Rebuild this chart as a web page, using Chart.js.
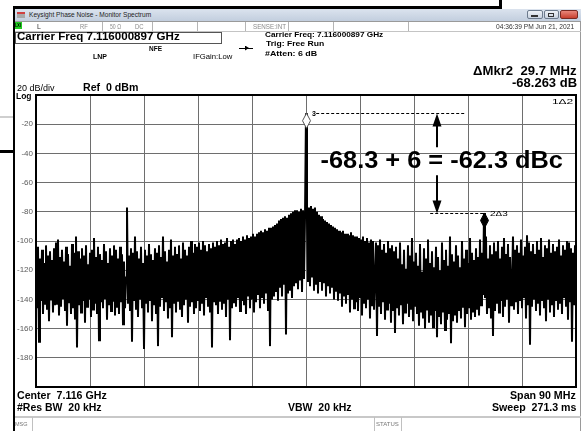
<!DOCTYPE html>
<html><head><meta charset="utf-8">
<script src="https://cdn.jsdelivr.net/npm/chart.js@4.4.0/dist/chart.umd.min.js"></script>
<style>
html,body{margin:0;padding:0;background:#fff;}
body{width:582px;height:431px;position:relative;overflow:hidden;font-family:"Liberation Sans",Arial,sans-serif;}
.a{position:absolute;white-space:pre;line-height:1;}
.r{position:absolute;}
#cv{position:absolute;left:0;top:0;}
</style></head><body>
<canvas id="cv" width="582" height="431"></canvas>
<script>
// ---------------- DATA ----------------
const sweepStartMHz = -45;   // Center 7.116 GHz - Span/2
const sweepStopMHz = 45;     // Center 7.116 GHz + Span/2
const yTicksDb = [-20, -40, -60, -80, -100, -120, -140, -160, -180];
// trace amplitude (dBm) for each sweep point (left to right)
const traceDb = [
-108,-146,-104,-169,-112,-141,-106,-150,-115,-143,-103,-147,-110,-155,-107,-140,-113,-149,-105,-144,
-101,-143,-99,-151,-111,-145,-106,-139,-114,-148,-104,-158,-109,-142,-117,-150,-102,-146,-108,-153,
-97,-173,-107,-144,-112,-149,-105,-141,-110,-156,-103,-145,-116,-140,-108,-152,-106,-147,-98,-143,
-111,-150,-104,-168,-109,-142,-113,-146,-102,-139,-107,-154,-115,-144,-105,-148,-110,-141,-103,-151,
-106,-145,-112,-150,-104,-142,-109,-157,-114,-146,-125,-77,-143,-110,-148,-105,-169,-108,-141,-97,
-147,-107,-152,-112,-140,-104,-146,-115,-174,-106,-143,-110,-149,-102,-141,-109,-155,-113,-144,-105,
-150,-108,-172,-103,-145,-111,-139,-97,-148,-107,-142,-114,-153,-106,-146,-99,-166,-110,-143,-104,
-149,-109,-141,-103,-147,-112,-152,-101,-144,-106,-140,-110,-156,-104,-145,-100,-142,-108,-150,-102,
-146,-104,-141,-101,-148,-106,-143,-100,-151,-103,-139,-107,-145,-102,-149,-105,-173,-101,-142,-104,
-144,-100,-150,-103,-141,-99,-147,-102,-143,-101,-152,-98,-140,-104,-168,-100,-146,-99,-142,-102,
-145,-99,-139,-98,-148,-100,-141,-97,-144,-99,-150,-96,-138,-98,-146,-97,-140,-95,-149,-97,
-142,-95,-137,-94,-146,-93,-139,-94,-143,-92,-136,-93,-148,-91,-172,-91,-140,-90,-138,-89,
-135,-88,-141,-86,-132,-85,-138,-84,-130,-83,-164,-84,-136,-82,-134,-81,-139,-80,-131,-79,
-129,-79,-133,-80,-127,-78,-135,-79,-126,-84,-12.5,-86,-128,-77,-131,-76,-125,-78,-134,-77,
-130,-80,-136,-82,-128,-83,-134,-85,-129,-86,-138,-87,-131,-88,-136,-89,-132,-90,-140,-91,
-134,-92,-141,-93,-136,-94,-145,-93,-138,-95,-143,-95,-137,-96,-149,-94,-140,-96,-146,-97,
-142,-97,-148,-98,-139,-99,-151,-97,-143,-100,-146,-98,-140,-101,-153,-99,-144,-100,-147,-125,
-101,-165,-103,-145,-99,-150,-106,-142,-102,-154,-108,-147,-100,-143,-105,-156,-103,-148,-107,-163,
-104,-146,-112,-151,-101,-144,-116,-157,-106,-149,-119,-143,-103,-152,-110,-147,-98,-155,-114,-145,
-108,-150,-117,-158,-102,-149,-121,-153,-105,-160,-112,-147,-99,-156,-115,-151,-107,-159,-118,-148,
-104,-166,-111,-152,-120,-157,-101,-149,-113,-161,-106,-154,-117,-150,-97,-170,-109,-155,-114,-151,
-103,-156,-110,-148,-118,-153,-100,-145,-112,-159,-106,-150,-115,-146,-98,-154,-108,-149,-113,-152,
-105,-147,-111,-151,-99,-144,-108,-137,-80.8,-139,-97,-150,-112,-146,-103,-153,-109,-165,-101,-148,
-107,-143,-100,-149,-112,-141,-104,-152,-98,-145,-109,-140,-102,-156,-111,-144,-128,-97,-147,-106,
-142,-103,-150,-108,-141,-99,-146,-110,-139,-104,-153,-96,-144,-101,-171,-107,-145,-102,-140,-109,
-148,-100,-143,-106,-151,-98,-141,-111,-146,-103,-155,-105,-140,-99,-149,-108,-144,-102,-152,-107,
-141,-104,-147,-99,-143,-110,-150,-103,-139,-106,-145,-100,-154,-101,-142,-105,-169,-108,-144,-103,
-146
];
// markers: 3 = carrier (reference), 2 = spur (delta marker)
const markerNames = ['3', '2\u03943'];
const markerFreqMHz = [0, 29.7];
const markerLevelDb = [-12.5, -80.8];
const deltaLabel = '-68.3 + 6 = -62.3 dBc';

// ---------------- helpers ----------------
function box(x, y, w, h, css) {
  const d = document.createElement('div');
  d.className = 'r';
  d.style.cssText = `left:${x}px;top:${y}px;width:${w}px;height:${h}px;` + (css || '');
  document.body.appendChild(d);
  return d;
}
function put(t, x, base, size, bold, align, color, w) {
  const s = document.createElement('div');
  s.className = 'a';
  s.textContent = t;
  s.style.fontSize = size + 'px';
  s.style.fontWeight = bold ? 'bold' : 'normal';
  s.style.color = color || '#000';
  s.style.top = (base - 0.8465 * size) + 'px';
  document.body.appendChild(s);
  const mw = s.offsetWidth;
  const k = w ? w / mw : 1;
  if (align === 'r') { s.style.right = (582 - x) + 'px'; s.style.transformOrigin = 'right center'; }
  else if (align === 'c') { s.style.left = (x - mw / 2) + 'px'; s.style.transformOrigin = 'center center'; }
  else { s.style.left = x + 'px'; s.style.transformOrigin = 'left center'; }
  s.style.transform = `scaleX(${k})`;
  return s;
}

// ---------------- chart ----------------
const tracePoints = traceDb.map((v, i) => ({
  x: sweepStartMHz + (sweepStopMHz - sweepStartMHz) * i / (traceDb.length - 1),
  y: v
}));

const annot = {
  upperDash: [1.7, 26.5],
  lowerDash: [20.7, 29.7],
  arrowX: 21.8,
  upperArrowEnd: -35.8,
  lowerArrowStart: -54.9,
  textX: 22.6,
  textBaseline: -50.3
};

const framePlugin = {
  id: 'frame',
  afterDraw(c) {
    const a = c.chartArea, ctx = c.ctx;
    ctx.save();
    ctx.strokeStyle = '#000';
    ctx.lineWidth = 2;
    ctx.strokeRect(a.left, a.top, a.right - a.left, a.bottom - a.top);
    ctx.restore();
  }
};

const markerPlugin = {
  id: 'markers',
  afterDatasetsDraw(c) {
    const ctx = c.ctx, xs = c.scales.x, ys = c.scales.y;
    ctx.save();
    ctx.strokeStyle = '#000';
    ctx.lineWidth = 1;
    ctx.setLineDash([3, 2]);
    const y3 = Math.round(ys.getPixelForValue(markerLevelDb[0])) + 0.5;
    const y2 = Math.round(ys.getPixelForValue(markerLevelDb[1])) + 0.5;
    ctx.beginPath();
    ctx.moveTo(xs.getPixelForValue(annot.upperDash[0]), y3);
    ctx.lineTo(xs.getPixelForValue(annot.upperDash[1]), y3);
    ctx.moveTo(xs.getPixelForValue(annot.lowerDash[0]), y2);
    ctx.lineTo(xs.getPixelForValue(annot.lowerDash[1]), y2);
    ctx.stroke();
    ctx.setLineDash([]);
    const ax = Math.round(xs.getPixelForValue(annot.arrowX));
    ctx.lineWidth = 2;
    ctx.beginPath();
    ctx.moveTo(ax, y3 + 10);
    ctx.lineTo(ax, ys.getPixelForValue(annot.upperArrowEnd));
    ctx.moveTo(ax, ys.getPixelForValue(annot.lowerArrowStart));
    ctx.lineTo(ax, y2 - 10);
    ctx.stroke();
    ctx.fillStyle = '#000';
    ctx.beginPath();
    ctx.moveTo(ax, y3); ctx.lineTo(ax + 4.5, y3 + 13); ctx.lineTo(ax - 4.5, y3 + 13); ctx.closePath();
    ctx.moveTo(ax, y2); ctx.lineTo(ax + 4.5, y2 - 13); ctx.lineTo(ax - 4.5, y2 - 13); ctx.closePath();
    ctx.fill();
    markerFreqMHz.forEach((f, i) => {
      const x = Math.round(xs.getPixelForValue(f)) + 0.5;
      const y = ys.getPixelForValue(markerLevelDb[i]);
      ctx.beginPath();
      ctx.moveTo(x, y); ctx.lineTo(x + 4, y + 7.5); ctx.lineTo(x, y + 15); ctx.lineTo(x - 4, y + 7.5); ctx.closePath();
      ctx.lineWidth = 1;
      ctx.fillStyle = i === 0 ? '#fff' : '#000';
      ctx.fill();
      ctx.strokeStyle = i === 0 ? '#555' : '#000';
      ctx.stroke();
    });
    ctx.restore();
  }
};

const chart = new Chart(document.getElementById('cv'), {
  type: 'line',
  data: {
    datasets: [{
      data: tracePoints,
      borderColor: '#000',
      borderWidth: 2,
      pointRadius: 0,
      tension: 0,
      fill: false
    }]
  },
  options: {
    responsive: false,
    animation: false,
    events: [],
    layout: { padding: { left: 0, top: 95, right: 6, bottom: 44 } },
    plugins: { legend: { display: false }, tooltip: { enabled: false } },
    scales: {
      x: {
        type: 'linear', min: sweepStartMHz, max: sweepStopMHz,
        ticks: { display: false, stepSize: 9 },
        grid: { color: '#6e6e6e', drawTicks: false, lineWidth: 1 },
        border: { display: false },
        afterFit(s) { s.height = 0; }
      },
      y: {
        min: -200, max: 0,
        afterBuildTicks(s) { s.ticks = [0, ...yTicksDb, -200].map(v => ({ value: v })); },
        ticks: {
          callback: v => (yTicksDb.includes(v) ? String(v) : ''),
          font: { size: 8, family: '"Liberation Sans", Arial, sans-serif' },
          color: '#5a5a5a', padding: 3
        },
        grid: { color: '#6e6e6e', drawTicks: false, lineWidth: 1 },
        border: { display: false },
        afterFit(s) { s.width = 36; }
      }
    }
  },
  plugins: [framePlugin, markerPlugin]
});

// ---------------- window chrome ----------------
box(0, 116, 13, 2, 'background:#cfcfcf');
box(0, 149.5, 13, 3, 'background:#000');
box(13, 6, 487, 2.5, 'background:#000');
box(499, 0, 3, 8.5, 'background:#000');
box(13, 6, 2, 425, 'background:#000');
box(580, 20, 1, 411, 'background:#9a9a9a');
box(15, 8.5, 566, 12, 'background:linear-gradient(#dbe3ee,#c2cede);');
box(17, 12, 8, 6, 'background:#a8a8a8;border-top:2px solid #d04040;box-sizing:border-box');
box(527, 10, 16, 9, 'background:linear-gradient(#eef2f7,#c9d3e0);border:1px solid #6d7b8d;box-sizing:border-box;border-radius:2px');
box(544, 10, 15, 9, 'background:linear-gradient(#eef2f7,#c9d3e0);border:1px solid #6d7b8d;box-sizing:border-box;border-radius:2px');
box(560, 10, 18, 9, 'background:linear-gradient(#e8877b,#c8402f);border:1px solid #7a2a22;box-sizing:border-box;border-radius:2px');
box(531, 15, 7, 1.5, 'background:#333');
box(548, 12.5, 6, 4, 'border:1px solid #333;box-sizing:border-box');
box(15, 20.5, 566, 1, 'background:#9a9a9a');
box(15, 31, 566, 1, 'background:#c4c4c4');
box(15, 22, 6.5, 7, 'background:#22cc22');
[102, 152, 197, 245, 288, 333, 408].forEach(x => box(x, 21.5, 1, 9.5, 'background:#b5b5b5'));
box(15, 31.5, 207, 12, 'border:1px solid #555;box-sizing:border-box');
box(239, 47.5, 14, 1, 'background:#000');
box(245, 45.5, 4, 5, 'background:#000;clip-path:polygon(0 0,100% 50%,0 100%)');
box(15, 416, 566, 1.5, 'background:#c8c8c8');
[32, 374, 401].forEach(x => box(x, 417, 1, 14, 'background:#c0c0c0'));

// ---------------- texts ----------------
put('Keysight Phase Noise - Monitor Spectrum', 29, 17.3, 7.5, false, 'l', '#1e1e1e', 122);
put('LXI', 15.3, 27.6, 5, true, 'l', '#000', 6);
put('L', 37, 28.7, 7, false, 'l', '#333');
put('RF', 80, 28.7, 7, false, 'l', '#8a8a8a', 7.5);
put('50 \u03a9', 110, 28.7, 7, false, 'l', '#8a8a8a', 11);
put('DC', 135, 28.7, 7, false, 'l', '#8a8a8a', 8.5);
put('SENSE:INT', 253, 28.7, 7, false, 'l', '#8a8a8a', 33);
put('04:36:39 PM Jun 21, 2021', 574, 28.7, 7, false, 'r', '#333', 78);
put('Carrier Freq 7.116000897 GHz', 17, 40.8, 11.5, true, 'l', '#000', 163);
put('NFE', 149, 51, 7.5, true, 'l', '#000', 13);
put('LNP', 93, 59.3, 7.5, true, 'l', '#000', 14);
put('IFGain:Low', 193, 59.3, 7.7, false, 'l', '#000', 39);
put('Carrier Freq: 7.116000897 GHz', 265, 37.8, 8, true, 'l', '#000', 118);
put('Trig: Free Run', 266, 46.5, 8, true, 'l', '#000', 58);
put('#Atten: 6 dB', 265, 56.8, 8, true, 'l', '#000', 52);
put('\u0394Mkr2  29.7 MHz', 577, 75, 12, true, 'r', '#000', 104);
put('-68.263 dB', 577, 87.3, 12, true, 'r', '#000', 65);
put('20 dB/div', 17, 92, 9, false, 'l', '#000', 38);
put('Ref  0 dBm', 83, 91.7, 11, true, 'l', '#000', 55);
put('Log', 16, 99.3, 9, true, 'l', '#000', 16);
put('Center  7.116 GHz', 17, 399, 10.5, true, 'l', '#000', 90);
put('#Res BW  20 kHz', 17, 410.7, 10.5, true, 'l', '#000', 85);
put('VBW  20 kHz', 288, 410.7, 10.5, true, 'l', '#000', 64);
put('Span 90 MHz', 576, 399, 10.5, true, 'r', '#000', 66);
put('Sweep  271.3 ms', 576, 410.7, 10.5, true, 'r', '#000', 84);
put('MSG', 15, 427, 5.5, false, 'l', '#777', 13);
put('STATUS', 376, 427, 5.5, false, 'l', '#777', 23);

const xs = chart.scales.x, ys = chart.scales.y;
put(markerNames[0], xs.getPixelForValue(markerFreqMHz[0]) + 6, ys.getPixelForValue(markerLevelDb[0]) + 3, 7, true, 'l', '#000');
put(markerNames[1], xs.getPixelForValue(markerFreqMHz[1]) + 6, ys.getPixelForValue(markerLevelDb[1]) + 3, 7, false, 'l', '#000', 17);
put('1\u03942', 573, 105, 8, false, 'r', '#000', 21);
put(deltaLabel, xs.getPixelForValue(annot.textX), ys.getPixelForValue(annot.textBaseline), 24, true, 'c', '#000', 242);
</script>
</body></html>
